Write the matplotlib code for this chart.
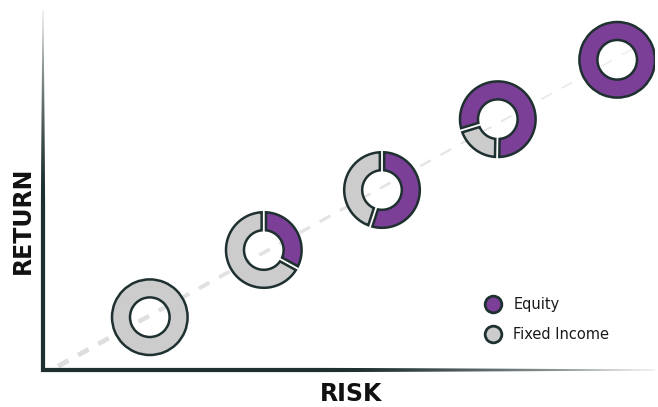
import numpy as np
import matplotlib
matplotlib.use("Agg")
import matplotlib.pyplot as plt
from matplotlib.patches import Annulus, Polygon
from matplotlib.lines import Line2D
from matplotlib.collections import LineCollection
from matplotlib.colors import to_rgba

# Portfolios placed along the risk/return line
portfolios = ["Conservative", "Moderately conservative", "Balanced", "Growth", "Aggressive"]
risk = [1.78, 3.68, 5.65, 7.58, 9.57]
expected_return = [0.88, 2.00, 3.00, 4.18, 5.17]
equity_pct = [0, 33, 55, 80, 100]
series_names = ["Equity", "Fixed Income"]
axis_labels = ["RISK", "RETURN"]

EQUITY = "#7b3f98"
FIXED = "#cccccc"
DARK = "#1f3030"
TREND = "#dedede"

# angle (deg) at which the equity slice starts, running clockwise
start_angle = [90, 90, 90, 197, 90]
R_OUT = 0.63
RING = 0.30
HALF_GAP = 0.036
PX = 60.0  # pixels per data unit on both axes

fig = plt.figure(figsize=(6.58, 4.07), dpi=100)
ax = fig.add_axes([38 / 658, 32 / 407, 617 / 658, 365 / 407])
XLIM = (-5 / PX, 612 / PX)
YLIM = (-5 / PX, 360 / PX)
ax.set_xticks([])
ax.set_yticks([])
for s in ax.spines.values():
    s.set_visible(False)

# dashed trend line fitted through the portfolios, thinning as risk grows
slope, icpt = np.polyfit(risk, expected_return, 1)
x0, x1 = 0.25, risk[-1] + 0.3
p0 = np.array([x0, slope * x0 + icpt])
p1 = np.array([x1, slope * x1 + icpt])
total = np.hypot(*(p1 - p0))
unit = (p1 - p0) / total
dash, gap = 12 / PX, 11 / PX
starts = np.arange(0, total, dash + gap)
segs, widths, cols = [], [], []
for s0 in starts:
    s1 = min(s0 + dash, total)
    segs.append([p0 + unit * s0, p0 + unit * s1])
    f = (s0 + s1) / 2 / total
    widths.append((5.0 - 4.0 * f) * 0.72)
    cols.append(to_rgba(TREND, 1 - 0.35 * f))
ax.add_collection(LineCollection(segs, linewidths=widths, colors=cols,
                                 capstyle="butt", zorder=1))


def ring_slice(x, y, a1, a2, color):
    """Annulus slice from a1 to a2 (deg, ccw) with parallel gaps at its cut edges."""
    ro, ri = R_OUT, R_OUT - RING
    do = np.degrees(np.arcsin(HALF_GAP / ro))
    di = np.degrees(np.arcsin(HALF_GAP / ri))
    outer = np.deg2rad(np.linspace(a1 + do, a2 - do, 120))
    inner = np.deg2rad(np.linspace(a2 - di, a1 + di, 80))
    pts = np.vstack([np.column_stack([x + ro * np.cos(outer), y + ro * np.sin(outer)]),
                     np.column_stack([x + ri * np.cos(inner), y + ri * np.sin(inner)])])
    ax.add_patch(Polygon(pts, closed=True, facecolor=color, edgecolor=DARK,
                         linewidth=1.8, joinstyle="miter", zorder=3))


for x, y, eq, st in zip(risk, expected_return, equity_pct, start_angle):
    frac = eq / 100
    if frac <= 0 or frac >= 1:
        color = EQUITY if frac >= 1 else FIXED
        ax.add_patch(Annulus((x, y), R_OUT, RING, facecolor=color,
                             edgecolor=DARK, linewidth=1.8, zorder=3))
        continue
    ring_slice(x, y, st, st + 360 * (1 - frac), FIXED)
    ring_slice(x, y, st - 360 * frac, st, EQUITY)


def tapered_axis(vertical, n=300):
    length = (YLIM[1] if vertical else XLIM[1])
    t = np.linspace(0, 1, n)
    hw = (2.1 / PX) * (1 - 0.8 * np.clip((t - 0.45) / 0.55, 0, 1) ** 1.3)
    along = t * length
    start = -2.1 / PX
    side_a = np.column_stack([np.r_[start, along], np.r_[hw[0], hw]])
    side_b = np.column_stack([np.r_[along[::-1], start], np.r_[-hw[::-1], -hw[0]]])
    verts = np.vstack([side_a, side_b])
    if vertical:
        verts = verts[:, ::-1]
    poly = Polygon(verts, closed=True, facecolor="none", edgecolor="none")
    ax.add_patch(poly)
    alpha = 1 - 0.85 * np.clip((t - 0.5) / 0.5, 0, 1) ** 1.4
    rgba = np.tile(np.array(to_rgba(DARK)), (n, 1))
    rgba[:, 3] = alpha
    if vertical:
        img = rgba[:, None, :]
        extent = (-3 / PX, 3 / PX, start, length)
    else:
        img = rgba[None, :, :]
        extent = (start, length, -3 / PX, 3 / PX)
    im = ax.imshow(img, extent=extent, origin="lower", aspect="auto",
                   interpolation="bilinear", zorder=4)
    im.set_clip_path(poly)


tapered_axis(True)
tapered_axis(False)
ax.set_xlim(*XLIM)
ax.set_ylim(*YLIM)

fig.text(351 / 658, 1 - 394 / 407, axis_labels[0], ha="center", va="center",
         fontsize=17, fontweight="bold", color="#111111")
fig.text(23 / 658, 1 - 220 / 407, axis_labels[1], ha="center", va="center",
         rotation=90, fontsize=17, fontweight="bold", color="#111111")

handles = [Line2D([], [], marker="o", ls="", markersize=12, markerfacecolor=c,
                  markeredgecolor=DARK, markeredgewidth=2)
           for c in (EQUITY, FIXED)]
fig.legend(handles, series_names, loc="center left",
           bbox_to_anchor=(484.7 / 658, 1 - 319.5 / 407),
           bbox_transform=fig.transFigure, frameon=False, fontsize=10.5,
           borderpad=0, borderaxespad=0, handlelength=1.2,
           handletextpad=0.75, labelspacing=1.0, labelcolor="#1a1a1a")

fig.savefig("out.png", dpi=100, facecolor="white")
